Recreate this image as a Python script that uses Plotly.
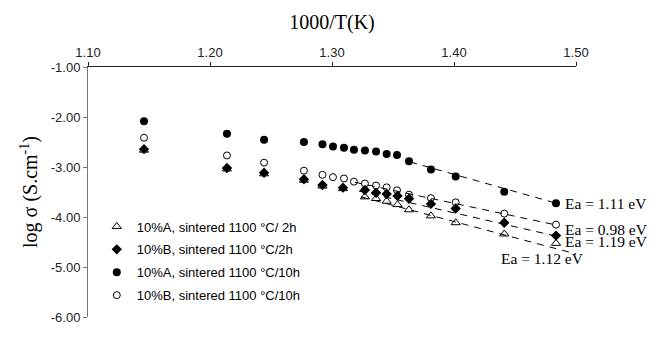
import plotly.graph_objects as go

# ---- data ----
x_circ = [1.1459, 1.2139, 1.2443, 1.2770, 1.2922, 1.3008, 1.3098, 1.3180, 1.3270,
          1.3361, 1.3448, 1.3533, 1.3631, 1.3811, 1.4014, 1.4412, 1.4836]
y_A_10h = [-2.085, -2.337, -2.453, -2.498, -2.545, -2.589, -2.614, -2.653, -2.672,
           -2.692, -2.738, -2.758, -2.886, -3.048, -3.190, -3.494, -3.727]
y_B_10h = [-2.415, -2.769, -2.913, -3.074, -3.157, -3.203, -3.229, -3.293, -3.331,
           -3.370, -3.407, -3.465, -3.554, -3.622, -3.707, -3.932, -4.153]

x_2h = [1.1459, 1.2139, 1.2443, 1.2770, 1.2922, 1.3090, 1.3270, 1.3361, 1.3448,
        1.3537, 1.3631, 1.3811, 1.4014, 1.4412, 1.4836]
y_A_2h = [-2.663, -3.039, -3.136, -3.264, -3.380, -3.432, -3.597, -3.630, -3.684,
          -3.752, -3.855, -3.977, -4.114, -4.339, -4.527]
y_B_2h = [-2.643, -3.019, -3.116, -3.244, -3.360, -3.413, -3.461, -3.514, -3.539,
          -3.578, -3.636, -3.738, -3.829, -4.114, -4.372]

# linear (Arrhenius) fit segments: end points
fit_A_10h_x = [1.3640, 1.4836]
fit_A_10h_y = [-2.899, -3.723]
fit_B_10h_x = [1.3189, 1.4836]
fit_B_10h_y = [-3.306, -4.159]
fit_B_2h_x = [1.3220, 1.4836]
fit_B_2h_y = [-3.481, -4.382]
fit_A_2h_x = [1.3238, 1.5033]
fit_A_2h_y = [-3.597, -4.760]

series_names = ["10%A, sintered 1100 °C/ 2h", "10%B, sintered 1100 °C/2h",
                "10%A, sintered 1100 °C/10h", "10%B, sintered 1100 °C/10h"]
ea_labels = ["Ea = 1.11 eV", "Ea = 0.98 eV", "Ea = 1.19 eV", "Ea = 1.12 eV"]

x_ticks = [1.10, 1.20, 1.30, 1.40, 1.50]
x_ticktext = ["1.10", "1.20", "1.30", "1.40", "1.50"]
y_ticks = [-1, -2, -3, -4, -5, -6]
y_ticktext = ["-1.00", "-2.00", "-3.00", "-4.00", "-5.00", "-6.00"]

SANS = "Liberation Sans, Arial, sans-serif"
SERIF = "Liberation Serif, Times New Roman, serif"

fig = go.Figure()

dash = "7px,6px"
for fx, fy in [(fit_A_10h_x, fit_A_10h_y), (fit_B_10h_x, fit_B_10h_y),
               (fit_B_2h_x, fit_B_2h_y), (fit_A_2h_x, fit_A_2h_y)]:
    fig.add_trace(go.Scatter(x=fx, y=fy, mode="lines", showlegend=False,
                             line=dict(color="black", width=1, dash=dash),
                             hoverinfo="skip"))

fig.add_trace(go.Scatter(x=x_2h, y=y_A_2h, mode="markers", name=series_names[0],
                         legendgroup="g1",
                         marker=dict(symbol="triangle-up-open", size=8, color="black",
                                     line=dict(width=1, color="black"))))
fig.add_trace(go.Scatter(x=x_2h, y=y_B_2h, mode="markers", name=series_names[1],
                         legendgroup="g2",
                         marker=dict(symbol="diamond", size=8, color="black")))
fig.add_trace(go.Scatter(x=x_circ, y=y_A_10h, mode="markers", name=series_names[2],
                         legendgroup="g3",
                         marker=dict(symbol="circle", size=8, color="black")))
fig.add_trace(go.Scatter(x=x_circ, y=y_B_10h, mode="markers", name=series_names[3],
                         legendgroup="g4",
                         marker=dict(symbol="circle-open", size=7, color="black",
                                     line=dict(width=1, color="black"))))

ann_font = dict(family=SERIF, size=15.5, color="black")
annotations = [
    dict(x=1.489, y=-3.733, text=ea_labels[0], xanchor="left"),
    dict(x=1.489, y=-4.256, text=ea_labels[1], xanchor="left"),
    dict(x=1.489, y=-4.483, text=ea_labels[2], xanchor="left"),
    dict(x=1.4725, y=-4.837, text=ea_labels[3], xanchor="center"),
]
for a in annotations:
    a.update(xref="x", yref="y", showarrow=False, yanchor="middle", font=ann_font)

fig.update_layout(
    width=659, height=337,
    margin=dict(l=88, r=83, t=67, b=12),
    paper_bgcolor="white", plot_bgcolor="white",
    showlegend=True,
    legend=dict(x=0.018, y=0.422, xanchor="left", yanchor="top",
                bgcolor="rgba(0,0,0,0)", tracegroupgap=3,
                font=dict(family=SANS, size=13, color="black")),
    annotations=annotations,
    xaxis=dict(side="top", range=[1.10, 1.50], tickvals=x_ticks, ticktext=x_ticktext,
               showgrid=False, zeroline=False, showline=True, linecolor="#222",
               linewidth=1, ticks="outside", ticklen=4, tickcolor="#222",
               tickfont=dict(family=SANS, size=13, color="#222"),
               title=dict(text="1000/T(K)", standoff=9,
                          font=dict(family=SERIF, size=20, color="black"))),
    yaxis=dict(range=[-6, -1], tickvals=y_ticks, ticktext=y_ticktext,
               showgrid=False, zeroline=False, showline=True, linecolor="#777",
               linewidth=1, ticks="outside", ticklen=4, tickcolor="#777",
               tickfont=dict(family=SANS, size=13, color="#222"),
               title=dict(text="log σ (S.cm<sup>-1</sup>)", standoff=7,
                          font=dict(family=SERIF, size=20, color="black"))),
)

fig.write_html("out.html")
